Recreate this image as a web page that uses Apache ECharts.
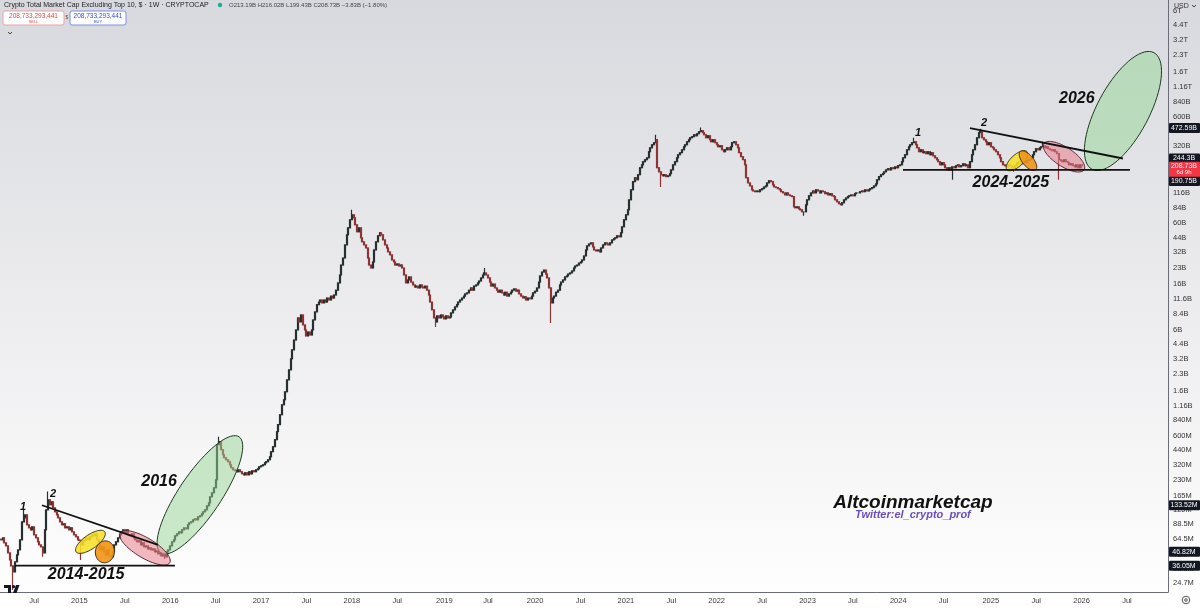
<!DOCTYPE html>
<html><head><meta charset="utf-8">
<script src="https://cdn.jsdelivr.net/npm/echarts@6/dist/echarts.min.js"></script>
<style>html,body{margin:0;padding:0;background:#fff}#c{width:1200px;height:608px}</style>
</head><body><div id="c"></div>
<script>
// ---------- DATA ----------
const title = 'Crypto Total Market Cap Excluding Top 10, $ · 1W · CRYPTOCAP';
const ohlcText = 'O213.19B H216.02B L199.43B C208.73B −3.83B (−1.80%)';
const firstWeek = '2014-02-24';
const weekCount = 669;                      // categories through Dec 2026
const firstOpenB = 0.0640;
// weekly closes, billions USD
const closeB = [
0.0631,0.0659,0.0592,0.0554,0.0476,0.0409,0.0359,0.0315,0.0392,0.0456,
0.0508,0.0631,0.0932,0.1017,0.1085,0.0874,0.0819,0.0784,0.0837,0.0704,
0.0659,0.0605,0.0566,0.0542,0.0476,0.0784,0.1209,0.1502,0.1348,0.1438,
0.1263,0.1158,0.1085,0.1017,0.0932,0.0874,0.0893,0.0819,0.0837,0.0784,
0.0819,0.0751,0.0704,0.0674,0.0631,0.0625,0.0566,0.0618,0.0631,0.0659,
0.0631,0.0674,0.0704,0.0689,0.0719,0.0631,0.0566,0.0508,0.0542,0.0487,
0.0456,0.0508,0.0446,0.0437,0.0487,0.0566,0.0605,0.0659,0.0704,0.0751,
0.0784,0.0735,0.0784,0.0704,0.0689,0.0719,0.0659,0.0631,0.0605,0.0618,
0.0566,0.0592,0.0542,0.0554,0.0519,0.0531,0.0508,0.0519,0.0487,0.0497,
0.0466,0.0476,0.0446,0.0456,0.0437,0.0487,0.0508,0.0554,0.0605,0.0631,
0.0689,0.0719,0.0751,0.0735,0.0784,0.0819,0.0801,0.0874,0.0912,0.0932,
0.0974,0.0995,0.0974,0.1039,0.1062,0.1109,0.1158,0.1209,0.1319,0.1407,
0.1603,0.175,0.195,0.232,0.496,0.529,0.445,0.399,0.374,0.358,
0.343,0.321,0.301,0.288,0.282,0.276,0.288,0.276,0.264,0.258,
0.270,0.258,0.276,0.264,0.282,0.276,0.288,0.294,0.307,0.314,
0.321,0.335,0.343,0.358,0.382,0.426,0.475,0.553,0.658,0.766,
0.949,1.178,1.312,1.56,2.02,2.51,3.19,3.87,4.79,5.96,
7.73,7.09,8.25,6.64,5.96,5.23,5.70,5.34,5.96,7.40,
8.81,10.3,10.9,11.4,10.7,11.4,10.9,11.9,11.4,12.4,
11.9,12.7,14.1,16.5,19.6,24.3,28.3,37.6,46.8,54.4,
64.8,72.2,67.6,58.1,49.9,54.4,43.8,40.2,37.6,35.2,
28.3,24.3,22.8,26.0,33.7,40.2,45.8,48.9,46.8,41.9,
37.6,35.2,32.3,30.3,27.1,26.0,24.3,24.9,23.8,24.3,
22.8,19.6,16.5,17.6,18.8,16.8,15.8,15.1,15.4,14.8,
15.8,15.1,14.8,15.4,14.1,12.7,10.9,9.20,7.73,7.09,
8.08,7.73,8.25,7.90,7.57,8.08,7.73,7.90,8.62,9.20,
9.82,10.3,10.9,11.4,11.9,12.4,13.0,13.3,14.1,14.8,
14.1,15.4,15.8,16.5,17.2,18.4,19.6,20.5,19.6,18.4,
16.8,15.4,16.1,14.8,14.1,13.5,14.1,13.3,12.7,13.5,
12.4,13.0,13.5,14.1,14.5,13.8,14.1,13.0,12.4,11.9,
12.2,11.4,11.9,11.7,12.4,13.3,13.8,14.8,16.8,19.2,
20.9,21.8,20.0,18.4,14.8,10.7,11.9,12.4,13.5,14.1,
15.8,16.8,17.6,18.8,19.2,20.0,20.5,21.4,22.8,23.8,
24.3,25.4,26.0,27.1,29.6,33.7,36.8,38.4,39.3,36.0,
33.7,33.0,33.7,32.3,35.2,37.6,39.3,38.4,37.6,39.3,
41.9,42.9,43.8,45.8,44.8,48.9,55.6,64.8,72.2,80.4,
99.8,124,148,161,154,172,200,213,228,238,
248,283,308,329,344,367,200,183,172,168,
172,165,168,176,191,213,228,248,265,277,
295,315,329,351,367,383,392,409,400,418,
437,446,427,409,383,400,367,351,367,344,
329,315,322,295,283,295,308,295,315,344,
351,329,308,277,254,238,213,161,144,135,
124,121,119,121,119,124,127,132,135,144,
151,148,138,132,130,127,124,119,116,111,
116,111,109,107,85.8,84.0,85.8,82.2,80.4,77.0,
77.0,89.6,99.8,109,116,121,116,124,121,116,
121,119,114,116,111,114,109,107,99.8,95.6,
91.6,89.6,93.6,99.8,104,107,109,111,109,114,
116,116,119,121,119,124,121,124,127,130,
135,141,154,165,172,176,183,191,196,191,
200,196,204,200,209,213,228,248,265,295,
315,329,344,351,329,308,283,295,277,283,
271,283,265,277,259,248,238,228,213,223,
213,200,191,200,191,204,200,209,213,204,
209,218,209,213,200,228,265,295,329,383,
427,437,383,367,351,329,344,315,308,295,
283,265,248,228,213,209,204,213,209,200,
196,209,223,228,218,223,228,223,233,238,
248,265,283,302,295,308,315,322,308,315,
302,295,289,295,283,271,238,233,228,238,
228,223,213,218,209,204,213,200,213.19,208.73
];
// notable wicks (week index -> billions)
const wickHighB = {13:0.121, 27:0.18, 125:0.59, 201:80.4, 277:22.8, 375:409, 401:479, 523:383, 561:466, 597:351, 619:216.02};
const wickLowB  = {7:0.0213, 24:0.0437, 46:0.0409, 94:0.0418, 249:6.36, 315:6.93, 378:132, 460:70.6, 545:154, 580:183, 606:154, 619:199.43};
// price scale tick labels
const yTickLabels = ['24.7M','33.5M','46M','64.5M','88.5M','120M','165M','230M','320M','440M','600M','840M',
 '1.16B','1.6B','2.3B','3.2B','4.4B','6B','8.4B','11.6B','16B','23B','32B','44B','60B','84B','116B','160B','230B',
 '320B','440B','600B','840B','1.16T','1.6T','2.3T','3.2T','4.4T','6T'];
// axis price tags: [label, valueB, color, extra line, nudge]
const priceTags = [
 ['472.59B',472.59,'#131722'],['244.3B',244.3,'#131722'],['190.75B',190.75,'#131722',null,11],
 ['208.73B',208.73,'#f23645','6d 9h'],['133.52M',0.13352,'#131722'],['46.82M',0.04682,'#131722',null,-2],['36.05M',0.03605,'#131722']];
const yMin = 2.04e7, yMax = 7.57e12;

// ---------- BUILD ----------
const DAY = 86400000;
const t0 = Date.parse(firstWeek + 'T00:00:00Z');
const weeks = [];
for (let i = 0; i < weekCount; i++) weeks.push(new Date(t0 + i * 7 * DAY).toISOString().slice(0, 10));
const labelAt = weeks.map((w, i) => i > 0 && w.slice(5, 7) !== weeks[i - 1].slice(5, 7) && (w.slice(5, 7) === '01' || w.slice(5, 7) === '07'));
const ohlc = closeB.map((c, i) => {
  const o = i ? closeB[i - 1] : firstOpenB;
  let hi = Math.max(o, c), lo = Math.min(o, c);
  if (wickHighB[i] != null) hi = Math.max(hi, wickHighB[i]);
  if (wickLowB[i] != null) lo = Math.min(lo, wickLowB[i]);
  return [o * 1e9, c * 1e9, lo * 1e9, hi * 1e9];
});
function parseLabel(s) { const u = s.slice(-1); return parseFloat(s) * (u === 'T' ? 1e12 : u === 'B' ? 1e9 : 1e6); }

const UI = '"Liberation Sans", Arial, sans-serif';
const chart = echarts.init(document.getElementById('c'), null, {renderer: 'canvas', width: 1200, height: 608});
chart.setOption({
  animation: false,
  backgroundColor: {type: 'linear', x: 0, y: 0, x2: 0, y2: 1,
    colorStops: [{offset: 0, color: '#d8d9de'}, {offset: 0.55, color: '#eeeef0'}, {offset: 1, color: '#ffffff'}]},
  grid: {left: 0, right: 32, top: 0, bottom: 16},
  xAxis: {type: 'category', data: weeks, boundaryGap: true,
    axisLine: {lineStyle: {color: '#6a6d78', width: 1}}, axisTick: {show: false}, splitLine: {show: false},
    axisLabel: {interval: (i) => labelAt[i], formatter: (v) => v.slice(5, 7) === '01' ? v.slice(0, 4) : 'Jul',
      fontSize: 7.5, color: '#3a3a3a', margin: 5, fontFamily: UI}},
  yAxis: {type: 'log', position: 'right', min: yMin, max: yMax, scale: true,
    axisLine: {show: true, lineStyle: {color: '#6a6d78', width: 1}}, axisTick: {show: false},
    axisLabel: {show: false}, splitLine: {show: false}},
  series: [{type: 'candlestick', data: ohlc, large: false, barWidth: 1.5,
    itemStyle: {color: '#1f2925', color0: '#8e3434', borderColor: '#26302c', borderColor0: '#8e3434', borderWidth: 1.2}}]
});

// ---------- DRAWINGS (anchored in data space) ----------
function P(i, vB) {
  const i0 = Math.floor(i), f = i - i0;
  const a = chart.convertToPixel({gridIndex: 0}, [i0, vB * 1e9]);
  if (!f) return a;
  const b = chart.convertToPixel({gridIndex: 0}, [i0 + 1, vB * 1e9]);
  return [a[0] + f * (b[0] - a[0]), a[1]];
}
function yPx(v) { return chart.convertToPixel({yAxisIndex: 0}, v); }
function ellipse(c, rx, ry, deg, fill, stroke) {
  const th = deg * Math.PI / 180, pts = [];
  for (let k = 0; k < 72; k++) {
    const t = k / 72 * 2 * Math.PI, ex = rx * Math.cos(t), ey = ry * Math.sin(t);
    pts.push([c[0] + ex * Math.cos(th) + ey * Math.sin(th), c[1] - ex * Math.sin(th) + ey * Math.cos(th)]);
  }
  return {type: 'polygon', z: 50, shape: {points: pts}, style: {fill, stroke, lineWidth: 1}};
}
function seg(a, b, w) { return {type: 'line', z: 55, shape: {x1: a[0], y1: a[1], x2: b[0], y2: b[1]}, style: {stroke: '#111', lineWidth: w || 1.8}}; }
function txt(p, text, font, fill, align) {
  return {type: 'text', z: 60, style: {x: p[0], y: p[1], text, font, fill: fill || '#111',
    align: align || 'center', verticalAlign: 'middle', textAlign: align || 'center', textVerticalAlign: 'middle'}};
}
const BI = (s) => 'italic bold ' + s + 'px ' + UI;
const G = [];
// 2014-2016
G.push(ellipse(P(114.0, 0.1674), 70, 21, 56, 'rgba(150,214,150,0.5)', '#1f3a22'));
G.push(ellipse(P(51.3, 0.0605), 17.5, 7, 35, 'rgba(246,224,40,0.88)', '#3a3415'));
G.push(ellipse(P(59.6, 0.0487), 11, 9.5, 80, 'rgba(240,150,25,0.92)', '#3a2810'));
G.push(ellipse(P(82.5, 0.0531), 29, 10, -31, 'rgba(232,128,140,0.55)', '#5a2a32'));
G.push(seg(P(23.55, 0.13352), P(90.0, 0.0566)));
G.push(seg(P(8.1, 0.03605), P(99.7, 0.03605)));
G.push(txt(P(12.7, 0.129), '1', BI(11)));
G.push(txt(P(29.9, 0.171), '2', BI(11)));
G.push(txt(P(48.8, 0.0295), '2014-2015', BI(16)));
G.push(txt(P(90.6, 0.222), '2016', BI(16)));
// 2024-2026
G.push(ellipse(P(642.7, 684), 66, 26, 62, 'rgba(150,214,150,0.5)', '#1f3a22'));
G.push(ellipse(P(582.0, 233), 13.5, 6, 42, 'rgba(246,224,40,0.88)', '#3a3415'));
G.push(ellipse(P(588.3, 233), 12, 5.5, -50, 'rgba(240,150,25,0.9)', '#3a2810'));
G.push(ellipse(P(608.9, 254), 24, 9.5, -33, 'rgba(232,128,140,0.55)', '#5a2a32'));
G.push(seg(P(516.7, 190.75), P(646.7, 190.75)));
G.push(seg(P(555.1, 472.59), P(642.7, 244.3)));
G.push(txt(P(525.3, 427), '1', BI(11)));
G.push(txt(P(563.1, 527), '2', BI(11)));
G.push(txt(P(578.5, 144), '2024-2025', BI(16)));
G.push(txt(P(616.3, 887), '2026', BI(16)));
// watermark text
G.push(txt(P(522.4, 0.140), 'Altcoinmarketcap', BI(19)));
G.push(txt(P(522.4, 0.108), 'Twitter:el_crypto_prof', BI(11), '#6a4fbf'));

// price scale labels
yTickLabels.forEach((s) => {
  const y = yPx(parseLabel(s));
  if (y > 8 && y < 590) G.push({type: 'text', z: 70, style: {x: 1173, y, text: s, font: '7.5px ' + UI, fill: '#333',
    align: 'left', verticalAlign: 'middle', textAlign: 'left', textVerticalAlign: 'middle'}});
});
priceTags.forEach(([s, vB, col, extra, dy]) => {
  const y = yPx(vB * 1e9) + (dy || 0);
  if (extra) {
    G.push({type: 'rect', z: 80, shape: {x: 1169, y: y - 4, width: 31, height: 15, r: 1}, style: {fill: col}});
    G.push({type: 'text', z: 81, style: {x: 1184, y: y, text: s, font: '7px ' + UI, fill: '#fff', align: 'center', verticalAlign: 'middle', textAlign: 'center', textVerticalAlign: 'middle'}});
    G.push({type: 'text', z: 81, style: {x: 1184, y: y + 7, text: extra, font: '6px ' + UI, fill: '#fff', align: 'center', verticalAlign: 'middle', textAlign: 'center', textVerticalAlign: 'middle'}});
  } else {
    G.push({type: 'rect', z: 80, shape: {x: 1169, y: y - 5, width: 31, height: 10, r: 1}, style: {fill: col}});
    G.push({type: 'text', z: 81, style: {x: 1184, y: y, text: s, font: '7px ' + UI, fill: '#fff', align: 'center', verticalAlign: 'middle', textAlign: 'center', textVerticalAlign: 'middle'}});
  }
});

// header
G.push({type: 'text', z: 90, style: {x: 4, y: 5, text: title, font: '7px ' + UI, fill: '#222', align: 'left', verticalAlign: 'middle', textAlign: 'left', textVerticalAlign: 'middle'}});
G.push({type: 'circle', z: 90, shape: {cx: 220, cy: 5, r: 2.2}, style: {fill: '#22ab94'}});
G.push({type: 'text', z: 90, style: {x: 229, y: 5, text: ohlcText, font: '6px ' + UI, fill: '#444', align: 'left', verticalAlign: 'middle', textAlign: 'left', textVerticalAlign: 'middle'}});
G.push({type: 'rect', z: 90, shape: {x: 3, y: 11, width: 61, height: 14, r: 2}, style: {fill: '#fff', stroke: '#eba2a2', lineWidth: 1}});
G.push({type: 'text', z: 91, style: {x: 33.5, y: 16, text: '208,733,293,441', font: '6.5px ' + UI, fill: '#e04848', align: 'center', verticalAlign: 'middle', textAlign: 'center', textVerticalAlign: 'middle'}});
G.push({type: 'text', z: 91, style: {x: 33.5, y: 22, text: 'SELL', font: '4px ' + UI, fill: '#e04848', align: 'center', verticalAlign: 'middle', textAlign: 'center', textVerticalAlign: 'middle'}});
G.push({type: 'text', z: 91, style: {x: 67, y: 18, text: '$', font: '5px ' + UI, fill: '#555', align: 'center', verticalAlign: 'middle', textAlign: 'center', textVerticalAlign: 'middle'}});
G.push({type: 'rect', z: 90, shape: {x: 70, y: 11, width: 56, height: 14, r: 2}, style: {fill: '#fff', stroke: '#7f8ee6', lineWidth: 1}});
G.push({type: 'text', z: 91, style: {x: 98, y: 16, text: '208,733,293,441', font: '6.5px ' + UI, fill: '#3450d0', align: 'center', verticalAlign: 'middle', textAlign: 'center', textVerticalAlign: 'middle'}});
G.push({type: 'text', z: 91, style: {x: 98, y: 22, text: 'BUY', font: '4px ' + UI, fill: '#3450d0', align: 'center', verticalAlign: 'middle', textAlign: 'center', textVerticalAlign: 'middle'}});
G.push({type: 'polyline', z: 91, shape: {points: [[8, 32], [10, 34], [12, 32]]}, style: {stroke: '#444', lineWidth: 1, fill: null}});
// top-right currency, bottom icons
G.push({type: 'text', z: 91, style: {x: 1174, y: 6, text: 'USD', font: '7px ' + UI, fill: '#333', align: 'left', verticalAlign: 'middle', textAlign: 'left', textVerticalAlign: 'middle'}});
G.push({type: 'polyline', z: 91, shape: {points: [[1192, 5], [1194, 7], [1196, 5]]}, style: {stroke: '#444', lineWidth: 1, fill: null}});
G.push({type: 'circle', z: 91, shape: {cx: 1186, cy: 600, r: 3.8}, style: {fill: 'none', stroke: '#555', lineWidth: 1}});
G.push({type: 'circle', z: 91, shape: {cx: 1186, cy: 600, r: 1.3}, style: {fill: 'none', stroke: '#555', lineWidth: 1}});
G.push({type: 'polygon', z: 91, shape: {points: [[4, 585], [11, 585], [11, 593], [8, 593], [8, 588], [4, 588]]}, style: {fill: '#131722'}});
G.push({type: 'circle', z: 91, shape: {cx: 13.6, cy: 586.6, r: 1.6}, style: {fill: '#131722'}});
G.push({type: 'polygon', z: 91, shape: {points: [[16, 585], [19.5, 585], [16.5, 593], [13, 593]]}, style: {fill: '#131722'}});

chart.setOption({graphic: {elements: G}});
</script></body></html>
